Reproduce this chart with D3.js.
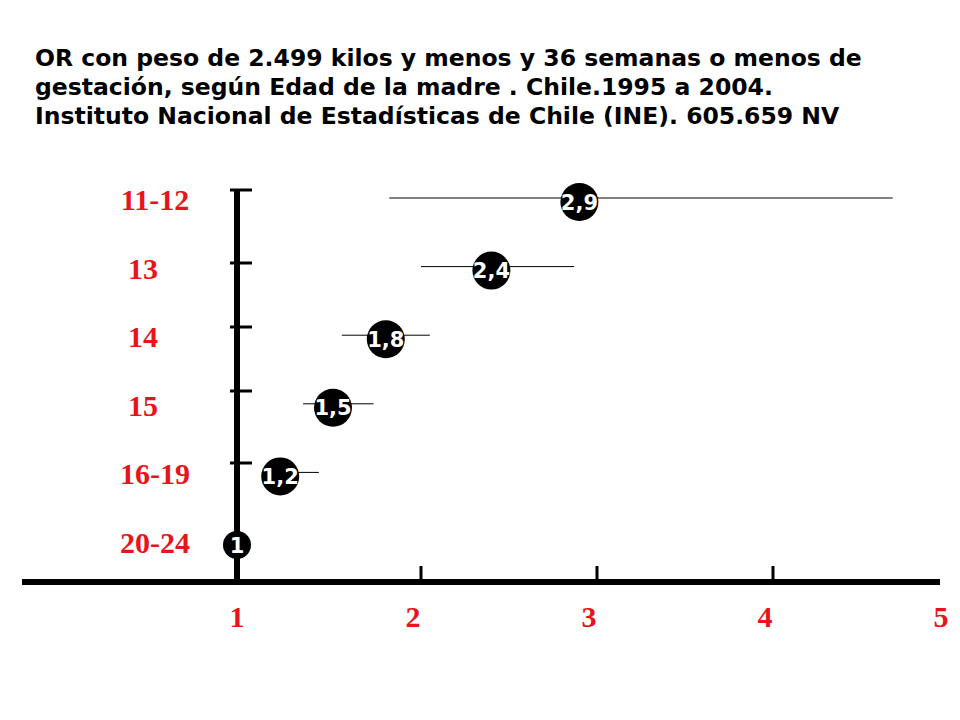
<!DOCTYPE html>
<meta charset="utf-8">
<style>
  body { margin: 0; background: #fff; }
  .title { font: bold 23.5px "DejaVu Sans", sans-serif; }
  .cat { font: bold 30px "Liberation Serif", serif; fill: #e8141b; }
</style>
<svg width="960" height="720"></svg>
<script src="https://cdn.jsdelivr.net/npm/d3@7/dist/d3.min.js"></script>
<script>
  var titleLines = [
    "OR con peso de 2.499 kilos y menos y 36 semanas o menos de",
    "gestación, según Edad de la madre . Chile.1995 a 2004.",
    "Instituto Nacional de Estadísticas de Chile (INE). 605.659 NV"
  ];
  var ages = ["11-12", "13", "14", "15", "16-19", "20-24"];
  var orValues = [2.9, 2.4, 1.8, 1.5, 1.2, 1];
  var orLabels = ["2,9", "2,4", "1,8", "1,5", "1,2", "1"];
  var ciLow = [1.82, 2.0, 1.55, 1.33, 1.1, null];
  var ciHigh = [4.68, 2.87, 2.05, 1.73, 1.42, null];
  var xTicks = [1, 2, 3, 4, 5];

  var svg = d3.select("svg");

  svg.selectAll(".title").data(titleLines).enter().append("text")
    .attr("class", "title")
    .attr("x", 35).attr("y", function (d, i) { return 66 + i * 29; })
    .text(function (d) { return d; });

  var x = d3.scaleLinear().domain([1, 5]).range([245, 949]);
  var y = d3.scalePoint().domain(ages).range([202, 545]);

  // axes
  svg.append("line").attr("x1", 22).attr("x2", 940).attr("y1", 582).attr("y2", 582)
    .attr("stroke", "#000").attr("stroke-width", 6);
  svg.append("line").attr("x1", x(1) - 8).attr("x2", x(1) - 8).attr("y1", 190).attr("y2", 582)
    .attr("stroke", "#000").attr("stroke-width", 6);

  svg.selectAll(".xt").data(xTicks.slice(1, 4)).enter().append("line")
    .attr("x1", function (d) { return x(d); }).attr("x2", function (d) { return x(d); })
    .attr("y1", 566).attr("y2", 582).attr("stroke", "#000").attr("stroke-width", 3);
  svg.selectAll(".xl").data(xTicks).enter().append("text")
    .attr("class", "cat").attr("text-anchor", "middle")
    .attr("x", function (d) { return x(d) - 8; }).attr("y", 627)
    .text(function (d) { return d; });

  svg.selectAll(".yt").data(ages.slice(0, 5)).enter().append("line")
    .attr("x1", 230).attr("x2", 252)
    .attr("y1", function (d, i) { return [190, 263, 327, 391, 463][i]; })
    .attr("y2", function (d, i) { return [190, 263, 327, 391, 463][i]; })
    .attr("stroke", "#000").attr("stroke-width", 3);

  svg.selectAll(".yl").data(ages).enter().append("text")
    .attr("class", "cat").attr("text-anchor", "middle")
    .attr("x", function (d, i) { return i === 0 || i >= 4 ? 155 : 143; })
    .attr("y", function (d) { return y(d) + 8; })
    .text(function (d) { return d; });

  // CI lines
  svg.selectAll(".ci").data(ages.slice(0, 5)).enter().append("line")
    .attr("x1", function (d, i) { return x(ciLow[i]); })
    .attr("x2", function (d, i) { return x(ciHigh[i]); })
    .attr("y1", function (d) { return y(d) - 4; })
    .attr("y2", function (d) { return y(d) - 4; })
    .attr("stroke", "#000").attr("stroke-width", 1);

  var pts = svg.selectAll(".pt").data(ages).enter().append("g")
    .attr("transform", function (d, i) { return "translate(" + (i === 5 ? x(1) - 8 : x(orValues[i])) + "," + y(d) + ")"; });
  pts.append("ellipse")
    .attr("rx", function (d, i) { return i === 5 ? 14 : 19; })
    .attr("ry", function (d, i) { return i === 5 ? 14 : 19; })
    .attr("fill", "#000");
  pts.append("text")
    .attr("text-anchor", "middle").attr("dy", "0.36em")
    .attr("fill", "#fff")
    .style("font", "bold 21px 'DejaVu Sans', sans-serif")
    .text(function (d, i) { return orLabels[i]; });
</script>
